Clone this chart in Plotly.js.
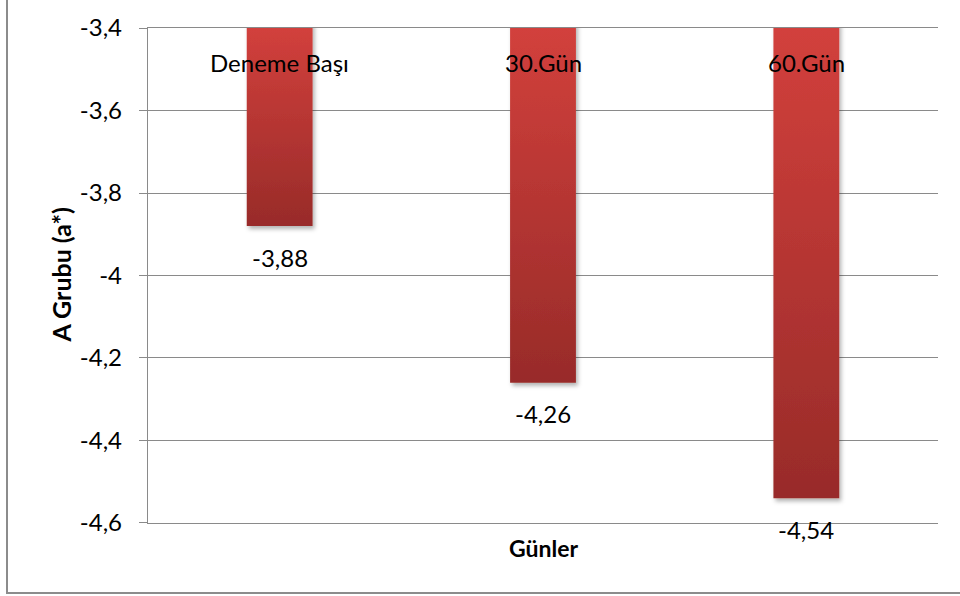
<!DOCTYPE html>
<html>
<head>
<meta charset="utf-8">
<script src="https://cdn.plot.ly/plotly-3.0.1.min.js"></script>
<style>
  html, body { margin: 0; padding: 0; background: #ffffff; }
  #chart { width: 960px; height: 596px; }
</style>
</head>
<body>
<div id="chart"></div>
<svg width="0" height="0" style="position:absolute">
  <defs id="fx">
    <filter id="barShadow" x="-20%" y="-5%" width="140%" height="110%">
      <feDropShadow dx="2" dy="3" stdDeviation="2.2" flood-color="#000" flood-opacity="0.3"/>
    </filter>
  </defs>
</svg>
<script>
// Günlere göre A grubu a* değerleri
const categories = ['Deneme Başı', '30.Gün', '60.Gün'];
const values = [-3.88, -4.26, -4.54];

// Dikey eksen etiketleri (Excel tarzı virgül ve kısa çizgi)
const yTickVals = [-3.4, -3.6, -3.8, -4.0, -4.2, -4.4, -4.6];
const yTickText = ['-3,4', '-3,6', '-3,8', '-4', '-4,2', '-4,4', '-4,6'];

const fontFamily = 'Lato, "Open Sans", "Noto Sans", sans-serif';
const gridColor = '#8a8a8a';

const fmt = v => v.toFixed(2).replace('.', ',');

const trace = {
  type: 'bar',
  x: categories,
  y: values,
  marker: { color: '#b83532', line: { width: 0 } },
  hoverinfo: 'x+y'
};

// Değer etiketleri: her çubuğun ucunun altında
const valueLabels = categories.map((c, i) => ({
  x: c, y: values[i], xref: 'x', yref: 'y',
  text: fmt(values[i]),
  showarrow: false,
  yanchor: 'middle',
  yshift: -31,
  font: { family: fontFamily, size: 24, color: '#000' }
}));

// Kategori adları: yatay eksen üstte (-3,4) kesiştiği için grafik alanının üst kısmında
const categoryLabels = categories.map(c => ({
  x: c, y: 1, xref: 'x', yref: 'paper',
  text: c,
  showarrow: false,
  yanchor: 'middle',
  yshift: -34,
  font: { family: fontFamily, size: 24, color: '#000' }
}));

const layout = {
  width: 960,
  height: 596,
  margin: { l: 148, r: 22, t: 28, b: 73 },
  paper_bgcolor: '#ffffff',
  plot_bgcolor: '#ffffff',
  showlegend: false,
  bargap: 0.75,
  font: { family: fontFamily, size: 24, color: '#000' },
  xaxis: {
    type: 'category',
    showticklabels: false,
    ticks: '',
    showgrid: false,
    showline: true,
    mirror: true,
    linecolor: gridColor,
    linewidth: 1.3,
    zeroline: false
  },
  yaxis: {
    range: [-4.6002, -3.3998],
    tickvals: yTickVals,
    ticktext: yTickText,
    ticks: 'outside',
    ticklen: 8,
    tickwidth: 1.3,
    tickcolor: gridColor,
    ticklabelstandoff: 12,
    showgrid: true,
    gridcolor: gridColor,
    gridwidth: 1.3,
    showline: true,
    linecolor: gridColor,
    linewidth: 1.3,
    zeroline: false,
    tickfont: { family: fontFamily, size: 24, color: '#000' }
  },
  annotations: valueLabels.concat(categoryLabels, [
    {
      // yatay eksen başlığı
      text: '<b>Günler</b>',
      xref: 'paper', yref: 'paper',
      x: 0.5, y: 0,
      yanchor: 'middle',
      yshift: -25,
      showarrow: false,
      font: { family: fontFamily, size: 23, color: '#000' }
    },
    {
      // dikey eksen başlığı
      text: '<b>A Grubu (a*)</b>',
      xref: 'paper', yref: 'paper',
      x: (60 - 148) / 790, y: 0.5,
      xanchor: 'center', yanchor: 'middle',
      textangle: -90,
      showarrow: false,
      font: { family: fontFamily, size: 25, color: '#000' }
    }
  ]),
  shapes: [{
    // grafik alanı çerçevesi (sol ve alt kenar görünür)
    type: 'path',
    xref: 'paper', yref: 'paper',
    path: 'M ' + ((7 - 148) / 790) + ' 1.2 L ' + ((7 - 148) / 790) + ' ' + (-70 / 495) +
          ' L 1.1 ' + (-70 / 495),
    line: { color: '#8c8c8c', width: 2 },
    layer: 'below'
  }]
};

// Excel görünümündeki dikey renk geçişini ve gölgeyi çubuklara uygula
function shadeBars(gd) {
  const defs = document.getElementById('fx');
  gd.querySelectorAll('.trace.bars .point path').forEach((p, i) => {
    const bb = p.getBBox();
    const id = 'barGrad' + i;
    let g = document.getElementById(id);
    if (!g) {
      g = document.createElementNS('http://www.w3.org/2000/svg', 'linearGradient');
      g.setAttribute('id', id);
      g.setAttribute('gradientUnits', 'userSpaceOnUse');
      const s1 = document.createElementNS('http://www.w3.org/2000/svg', 'stop');
      s1.setAttribute('offset', '0');
      s1.setAttribute('stop-color', '#d2403c');
      const s2 = document.createElementNS('http://www.w3.org/2000/svg', 'stop');
      s2.setAttribute('offset', '1');
      s2.setAttribute('stop-color', '#982b29');
      g.appendChild(s1);
      g.appendChild(s2);
      defs.appendChild(g);
    }
    g.setAttribute('x1', 0);
    g.setAttribute('x2', 0);
    g.setAttribute('y1', Math.max(bb.y, 0));
    g.setAttribute('y2', bb.y + bb.height);
    p.style.fill = 'url(#' + id + ')';
    p.setAttribute('filter', 'url(#barShadow)');
  });
}

const gd = document.getElementById('chart');
Plotly.newPlot(gd, [trace], layout, { displayModeBar: false })
  .then(shadeBars);
</script>
</body>
</html>
